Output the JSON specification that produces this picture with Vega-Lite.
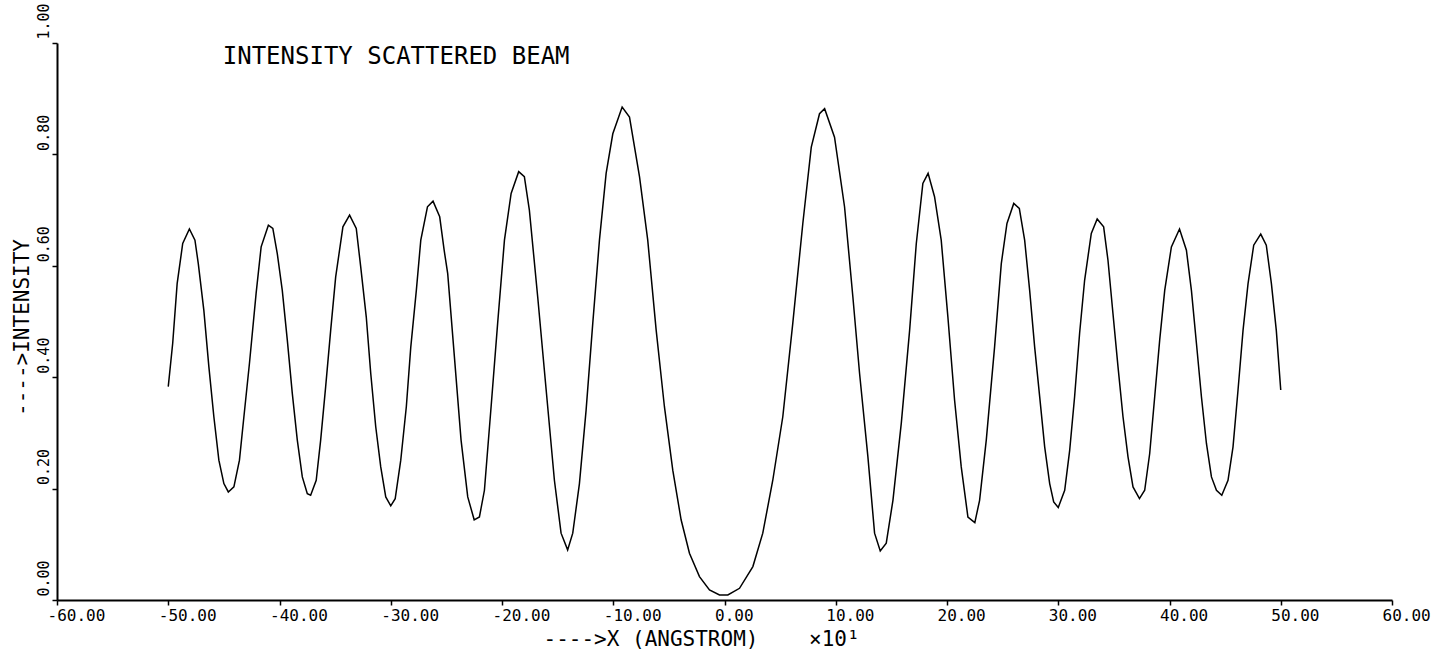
{
  "$schema": "https://vega.github.io/schema/vega-lite/v6.json",
  "width": 1335,
  "height": 557,
  "autosize": {"type": "none"},
  "padding": {"left": 57, "top": 43, "right": 52, "bottom": 53},
  "background": "white",
  "config": {"view": {"stroke": null}, "font": "DejaVu Sans Mono"},
  "datasets": {
    "curve": [
      {"x": -50.0, "y": 0.383}, {"x": -49.6, "y": 0.461}, {"x": -49.2, "y": 0.568}, {"x": -48.7, "y": 0.640},
      {"x": -48.1, "y": 0.666}, {"x": -47.6, "y": 0.646}, {"x": -47.3, "y": 0.604}, {"x": -46.8, "y": 0.520},
      {"x": -46.35, "y": 0.419}, {"x": -45.9, "y": 0.329}, {"x": -45.45, "y": 0.251}, {"x": -45.0, "y": 0.209},
      {"x": -44.6, "y": 0.194}, {"x": -44.1, "y": 0.203}, {"x": -43.6, "y": 0.251}, {"x": -43.2, "y": 0.329},
      {"x": -42.7, "y": 0.425}, {"x": -42.1, "y": 0.551}, {"x": -41.65, "y": 0.634}, {"x": -41.0, "y": 0.673},
      {"x": -40.6, "y": 0.667}, {"x": -40.2, "y": 0.622}, {"x": -39.75, "y": 0.556}, {"x": -39.3, "y": 0.467},
      {"x": -38.85, "y": 0.371}, {"x": -38.4, "y": 0.287}, {"x": -37.95, "y": 0.221}, {"x": -37.5, "y": 0.191},
      {"x": -37.2, "y": 0.188}, {"x": -36.7, "y": 0.215}, {"x": -36.3, "y": 0.287}, {"x": -35.85, "y": 0.383},
      {"x": -35.4, "y": 0.484}, {"x": -34.95, "y": 0.580}, {"x": -34.3, "y": 0.670}, {"x": -33.7, "y": 0.691},
      {"x": -33.1, "y": 0.667}, {"x": -32.7, "y": 0.598}, {"x": -32.2, "y": 0.508}, {"x": -31.8, "y": 0.407},
      {"x": -31.35, "y": 0.311}, {"x": -30.9, "y": 0.239}, {"x": -30.45, "y": 0.185}, {"x": -30.0, "y": 0.169},
      {"x": -29.6, "y": 0.182}, {"x": -29.1, "y": 0.251}, {"x": -28.6, "y": 0.347}, {"x": -28.2, "y": 0.454},
      {"x": -27.7, "y": 0.556}, {"x": -27.3, "y": 0.646}, {"x": -26.7, "y": 0.706}, {"x": -26.2, "y": 0.716},
      {"x": -25.6, "y": 0.688}, {"x": -25.2, "y": 0.628}, {"x": -24.88, "y": 0.586}, {"x": -24.28, "y": 0.437},
      {"x": -23.68, "y": 0.287}, {"x": -23.08, "y": 0.185}, {"x": -22.5, "y": 0.144}, {"x": -22.03, "y": 0.149},
      {"x": -21.58, "y": 0.197}, {"x": -20.98, "y": 0.347}, {"x": -20.39, "y": 0.497}, {"x": -19.78, "y": 0.646},
      {"x": -19.18, "y": 0.730}, {"x": -18.5, "y": 0.769}, {"x": -17.99, "y": 0.760}, {"x": -17.54, "y": 0.700},
      {"x": -16.79, "y": 0.544}, {"x": -16.03, "y": 0.377}, {"x": -15.29, "y": 0.215}, {"x": -14.69, "y": 0.120},
      {"x": -14.1, "y": 0.090}, {"x": -13.64, "y": 0.120}, {"x": -13.04, "y": 0.209}, {"x": -12.44, "y": 0.341},
      {"x": -11.84, "y": 0.497}, {"x": -11.24, "y": 0.646}, {"x": -10.64, "y": 0.766}, {"x": -10.04, "y": 0.837},
      {"x": -9.2, "y": 0.885}, {"x": -8.54, "y": 0.867}, {"x": -7.64, "y": 0.760}, {"x": -6.9, "y": 0.646},
      {"x": -6.14, "y": 0.484}, {"x": -5.4, "y": 0.347}, {"x": -4.65, "y": 0.233}, {"x": -3.9, "y": 0.144},
      {"x": -3.15, "y": 0.084}, {"x": -2.25, "y": 0.042}, {"x": -1.35, "y": 0.018}, {"x": -0.45, "y": 0.009},
      {"x": 0.3, "y": 0.009}, {"x": 1.35, "y": 0.021}, {"x": 2.55, "y": 0.060}, {"x": 3.44, "y": 0.120},
      {"x": 4.34, "y": 0.215}, {"x": 5.24, "y": 0.329}, {"x": 6.14, "y": 0.497}, {"x": 7.04, "y": 0.676},
      {"x": 7.8, "y": 0.813}, {"x": 8.54, "y": 0.873}, {"x": 9.0, "y": 0.882}, {"x": 9.89, "y": 0.831},
      {"x": 10.79, "y": 0.706}, {"x": 11.54, "y": 0.544}, {"x": 12.14, "y": 0.407}, {"x": 12.89, "y": 0.257},
      {"x": 13.49, "y": 0.120}, {"x": 14.0, "y": 0.088}, {"x": 14.54, "y": 0.102}, {"x": 15.14, "y": 0.179},
      {"x": 15.89, "y": 0.317}, {"x": 16.64, "y": 0.484}, {"x": 17.24, "y": 0.640}, {"x": 17.83, "y": 0.748},
      {"x": 18.3, "y": 0.766}, {"x": 18.88, "y": 0.724}, {"x": 19.48, "y": 0.646}, {"x": 20.08, "y": 0.508},
      {"x": 20.68, "y": 0.359}, {"x": 21.28, "y": 0.239}, {"x": 21.88, "y": 0.149}, {"x": 22.5, "y": 0.139},
      {"x": 22.93, "y": 0.179}, {"x": 23.53, "y": 0.287}, {"x": 24.28, "y": 0.455}, {"x": 24.88, "y": 0.604},
      {"x": 25.39, "y": 0.676}, {"x": 26.0, "y": 0.712}, {"x": 26.5, "y": 0.703}, {"x": 26.98, "y": 0.646},
      {"x": 27.43, "y": 0.556}, {"x": 27.88, "y": 0.454}, {"x": 28.33, "y": 0.365}, {"x": 28.78, "y": 0.275},
      {"x": 29.23, "y": 0.209}, {"x": 29.59, "y": 0.176}, {"x": 30.0, "y": 0.166}, {"x": 30.58, "y": 0.197},
      {"x": 31.03, "y": 0.269}, {"x": 31.47, "y": 0.365}, {"x": 31.92, "y": 0.479}, {"x": 32.37, "y": 0.574},
      {"x": 32.97, "y": 0.658}, {"x": 33.5, "y": 0.684}, {"x": 34.08, "y": 0.670}, {"x": 34.47, "y": 0.610},
      {"x": 34.92, "y": 0.514}, {"x": 35.37, "y": 0.419}, {"x": 35.82, "y": 0.329}, {"x": 36.27, "y": 0.257},
      {"x": 36.72, "y": 0.203}, {"x": 37.3, "y": 0.182}, {"x": 37.77, "y": 0.197}, {"x": 38.22, "y": 0.263},
      {"x": 38.67, "y": 0.365}, {"x": 39.12, "y": 0.467}, {"x": 39.57, "y": 0.556}, {"x": 40.17, "y": 0.634},
      {"x": 40.9, "y": 0.666}, {"x": 41.52, "y": 0.628}, {"x": 41.97, "y": 0.556}, {"x": 42.42, "y": 0.461},
      {"x": 42.87, "y": 0.365}, {"x": 43.32, "y": 0.281}, {"x": 43.77, "y": 0.221}, {"x": 44.22, "y": 0.197},
      {"x": 44.7, "y": 0.188}, {"x": 45.26, "y": 0.215}, {"x": 45.71, "y": 0.275}, {"x": 46.16, "y": 0.377},
      {"x": 46.61, "y": 0.484}, {"x": 47.06, "y": 0.568}, {"x": 47.57, "y": 0.637}, {"x": 48.2, "y": 0.657},
      {"x": 48.7, "y": 0.637}, {"x": 49.16, "y": 0.568}, {"x": 49.6, "y": 0.484}, {"x": 50.0, "y": 0.377}
    ],
    "note": [
      {"x": -45.1, "y": 0.962, "label": "INTENSITY SCATTERED BEAM"}
    ]
  },
  "layer": [
    {
      "data": {"name": "curve"},
      "mark": {"type": "line", "color": "black", "strokeWidth": 1.5, "interpolate": "linear"},
      "encoding": {
        "x": {
          "field": "x", "type": "quantitative",
          "scale": {"domain": [-60, 60], "nice": false, "zero": false},
          "axis": {
            "values": [-60, -50, -40, -30, -20, -10, 0, 10, 20, 30, 40, 50, 60],
            "labelExpr": "(datum.value < 0 ? '-' : '') + format(abs(datum.value), '.2f')",
            "labelAlign": "left", "labelOffset": -10, "labelBaseline": "top", "labelPadding": 2,
            "labelFontSize": 16, "labelFont": "DejaVu Sans Mono", "labelColor": "black",
            "labelFlush": false, "labelOverlap": false, "labelBound": false,
            "tickColor": "black", "tickSize": 5, "tickWidth": 1.5,
            "domainColor": "black", "domainWidth": 2, "grid": false,
            "title": "---->X (ANGSTROM)\u00a0\u00a0\u00a0\u00a0×10¹",
            "titleFont": "DejaVu Sans Mono", "titleFontSize": 21, "titleFontWeight": "normal", "titleColor": "black",
            "titleAnchor": "start", "titleAlign": "left", "titleX": 486, "titleY": 45, "titleBaseline": "alphabetic"
          }
        },
        "y": {
          "field": "y", "type": "quantitative",
          "scale": {"domain": [0, 1], "nice": false, "zero": true},
          "axis": {
            "values": [0, 0.2, 0.4, 0.6, 0.8, 1.0],
            "labelExpr": "format(datum.value, '.2f')",
            "labelAngle": -90, "labelAlign": "left", "labelBaseline": "alphabetic", "labelOffset": -4, "labelPadding": 4,
            "labelFontSize": 15, "labelFont": "DejaVu Sans Mono", "labelColor": "black",
            "labelFlush": false, "labelOverlap": false, "labelBound": false,
            "tickColor": "black", "tickSize": 5, "tickWidth": 1.5,
            "domainColor": "black", "domainWidth": 2, "grid": false,
            "title": "---->INTENSITY",
            "titleFont": "DejaVu Sans Mono", "titleFontSize": 21, "titleFontWeight": "normal", "titleColor": "black",
            "titleAngle": 270, "titleAlign": "center", "titleBaseline": "alphabetic", "titleX": -29, "titleY": 284
          }
        }
      }
    },
    {
      "data": {"name": "note"},
      "mark": {"type": "text", "align": "left", "baseline": "alphabetic", "fontSize": 24, "font": "DejaVu Sans Mono", "color": "black"},
      "encoding": {
        "x": {"field": "x", "type": "quantitative"},
        "y": {"field": "y", "type": "quantitative"},
        "text": {"field": "label"}
      }
    }
  ]
}
